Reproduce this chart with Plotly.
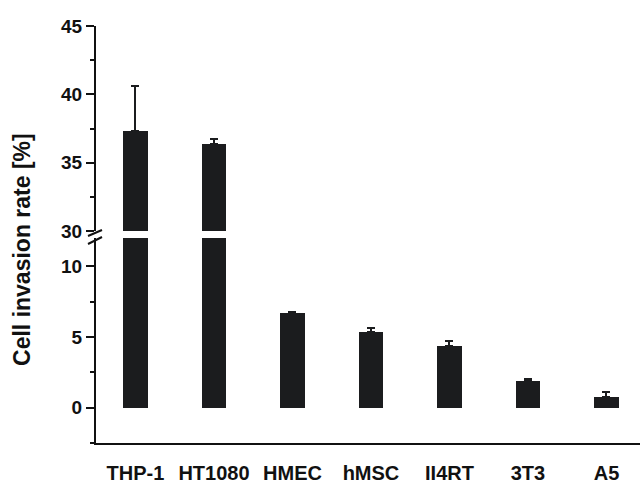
import plotly.graph_objects as go

categories = ["THP-1", "HT1080", "HMEC", "hMSC", "II4RT", "3T3", "A5"]
invasion_rate = [37.3, 36.4, 6.7, 5.35, 4.36, 1.86, 0.76]
error_up = [3.3, 0.3, 0.1, 0.28, 0.38, 0.2, 0.37]
lower_ticks = [0, 5, 10]
upper_ticks = [30, 35, 40, 45]

x_idx = list(range(len(categories)))
bar_color = "#1b1c1e"
axis_font = dict(family="Liberation Sans", size=19, color="#111111", weight="bold")

err = dict(type="data", array=error_up, arrayminus=[0] * len(error_up), symmetric=False,
           color="#1b1c1e", thickness=2, width=4)

fig = go.Figure()
fig.add_trace(go.Bar(x=x_idx, y=invasion_rate, width=0.31, marker=dict(color=bar_color, line=dict(width=0)),
                     error_y=err, xaxis="x", yaxis="y", showlegend=False))
fig.add_trace(go.Bar(x=x_idx, y=invasion_rate, width=0.31, marker=dict(color=bar_color, line=dict(width=0)),
                     error_y=err, xaxis="x", yaxis="y2", showlegend=False))

tick_common = dict(ticks="outside", ticklen=8, tickwidth=2, tickcolor="#111111",
                   showline=True, linewidth=2, linecolor="#111111", showgrid=False,
                   zeroline=False, tickfont=axis_font, automargin=False,
                   minor=dict(dtick=2.5, tick0=0, ticks="outside", ticklen=4, tickwidth=2,
                              tickcolor="#111111", showgrid=False))

fig.update_layout(
    width=640, height=486,
    margin=dict(l=96, r=0, t=26, b=43),
    paper_bgcolor="white", plot_bgcolor="white",
    bargap=0,
    xaxis=dict(range=[-0.503, 6.427], domain=[0, 1], anchor="y", automargin=False,
               tickvals=x_idx, ticktext=categories, ticks="", showline=True,
               linewidth=2, linecolor="#111111", showgrid=False, zeroline=False,
               tickfont=dict(family="Liberation Sans", size=20, color="#111111", weight="bold"),
               ticklabelstandoff=11),
    yaxis=dict(range=[-2.5, 12], domain=[0, 0.4916], anchor="x",
               tickvals=lower_ticks, **tick_common),
    yaxis2=dict(range=[30, 45], domain=[0.5084, 1], anchor="x",
                tickvals=upper_ticks, **tick_common),
    annotations=[dict(text="Cell invasion rate [%]", xref="paper", yref="paper",
                      x=-0.136, y=0.463, xanchor="center", yanchor="middle",
                      textangle=-90, showarrow=False,
                      font=dict(family="Liberation Sans", size=23, color="#111111", weight="bold"))],
    shapes=[
        dict(type="line", xref="paper", yref="paper", x0=-0.0147, x1=0.011,
             y0=0.4964, y1=0.5108, line=dict(color="#111111", width=2)),
        dict(type="line", xref="paper", yref="paper", x0=-0.0147, x1=0.011,
             y0=0.4772, y1=0.4940, line=dict(color="#111111", width=2)),
    ],
)

fig.write_html("out.html", config={"displayModeBar": False},
               post_script="document.body.style.margin='0';document.body.style.overflow='hidden';")
